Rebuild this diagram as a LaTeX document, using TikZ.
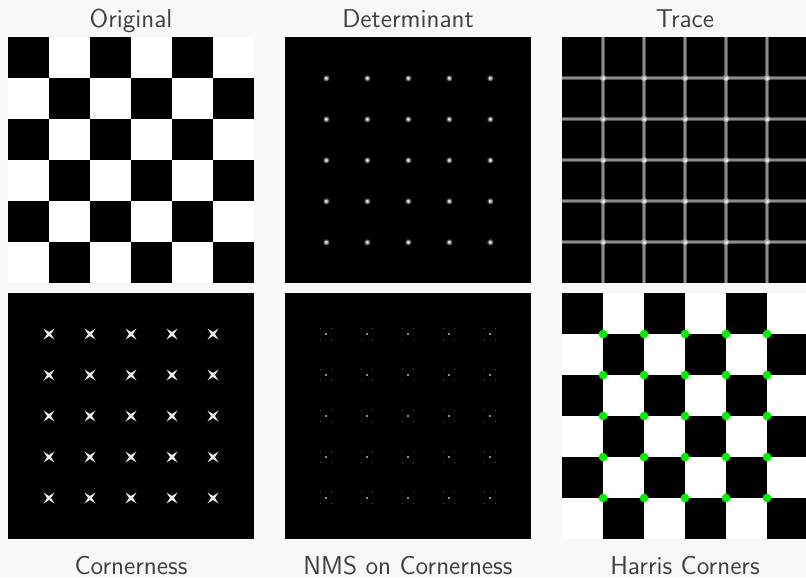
\documentclass[tikz,border=0pt]{standalone}
\usetikzlibrary{positioning}
\definecolor{canvas}{HTML}{F8F8F8}
\definecolor{caption}{HTML}{404040}
\definecolor{corner}{HTML}{00F000}
\definecolor{ridge}{HTML}{8C8C8C}

\begin{document}
\begin{tikzpicture}[x=0.5pt, y=-0.5pt,
  panel/.style={minimum size=123pt, inner sep=0pt, outer sep=0pt, fill=black},
  board/.style={panel, fill=white},
  lbl/.style={font=\sffamily\fontsize{12.9}{15}\selectfont, text=caption, inner sep=0pt}]
\useasboundingbox (0,0) rectangle (806,578);
\fill[canvas] (0,0) rectangle (806,578);

\node[board] (orig) at (131,160) {};
\node[panel] (det) at (408,160) {};
\node[panel] (trace) at (685,160) {};
\node[panel] (corn) at (131,416) {};
\node[panel] (nms) at (408,416) {};
\node[board] (harris) at (685,416) {};

\node[lbl, above=5pt of orig, anchor=base] (orig-lbl) {Original};
\node[lbl, above=5pt of det, anchor=base] (det-lbl) {Determinant};
\node[lbl, above=5pt of trace, anchor=base] (trace-lbl) {Trace};
\node[lbl, below=17.5pt of corn, anchor=base] (corn-lbl) {Cornerness};
\node[lbl, below=17.5pt of nms, anchor=base] (nms-lbl) {NMS on Cornerness};
\node[lbl, below=17.5pt of harris, anchor=base] (harris-lbl) {Harris Corners};

\begin{scope}[shift={(orig.north west)}]
  \foreach \i [evaluate=\i as \s using {int(mod(\i,2))}] in {0,...,5}
    \foreach \k in {0,2,4}
      \fill[black] ({41*(\k+\s)},{41*\i}) rectangle ++(41,41);
\end{scope}

\begin{scope}[shift={(det.north west)}]
  \foreach \i in {1,...,5}
    \foreach \j in {1,...,5} {
      \shade[inner color=white, outer color=black] ({41*\i},{41*\j}) circle (1.8pt);
      \fill[white!90!black] ({41*\i},{41*\j}) circle (0.6pt);
    }
\end{scope}

\begin{scope}[shift={(trace.north west)}]
  \clip (0,0) rectangle (244,246);
  \foreach \k in {1,...,5} {
    \draw[ridge!55!black, line width=2.4pt] ({41*\k},0) -- ({41*\k},246);
    \draw[ridge!55!black, line width=2.4pt] (0,{41*\k}) -- (246,{41*\k});
  }
  \foreach \k in {1,...,5} {
    \draw[ridge, line width=1.2pt] ({41*\k},0) -- ({41*\k},246);
    \draw[ridge, line width=1.2pt] (0,{41*\k}) -- (246,{41*\k});
  }
  \foreach \i in {1,...,5}
    \foreach \j in {1,...,5}
      \shade[inner color=white, outer color=ridge] ({41*\i},{41*\j}) circle (1.6pt);
\end{scope}

\begin{scope}[shift={(corn.north west)}]
  \foreach \i in {1,...,5}
    \foreach \j in {1,...,5}
      \fill[white!92!black, shift={({41*\i},{41*\j})}]
        (-5.5,-5.5) -- (0,-2) -- (5.5,-5.5) -- (2,0) -- (5.5,5.5)
        -- (0,2) -- (-5.5,5.5) -- (-2,0) -- cycle;
\end{scope}

\begin{scope}[shift={(nms.north west)}]
  \foreach \i in {1,...,5}
    \foreach \j in {1,...,5} {
      \fill[black!45, shift={({41*\i},{41*\j})}] (-1,-1) rectangle (1,1);
      \foreach \dx/\dy in {-5.5/-5.5, 5.5/-5.5, -5.5/5.5, 5.5/5.5}
        \fill[black!68, shift={({41*\i},{41*\j})}] (\dx-0.5,\dy-0.5) rectangle ++(1,1);
    }
\end{scope}

\begin{scope}[shift={(harris.north west)}]
  \clip (0,0) rectangle (244,246);
  \foreach \i [evaluate=\i as \s using {int(mod(\i,2))}] in {0,...,5}
    \foreach \k in {0,2,4}
      \fill[black] ({41*(\k+\s)},{41*\i}) rectangle ++(41,41);
  \foreach \i in {1,...,5}
    \foreach \j in {1,...,5}
      \fill[corner] ({41*\i},{41*\j}) circle (2.15pt);
\end{scope}
\end{tikzpicture}
\end{document}
